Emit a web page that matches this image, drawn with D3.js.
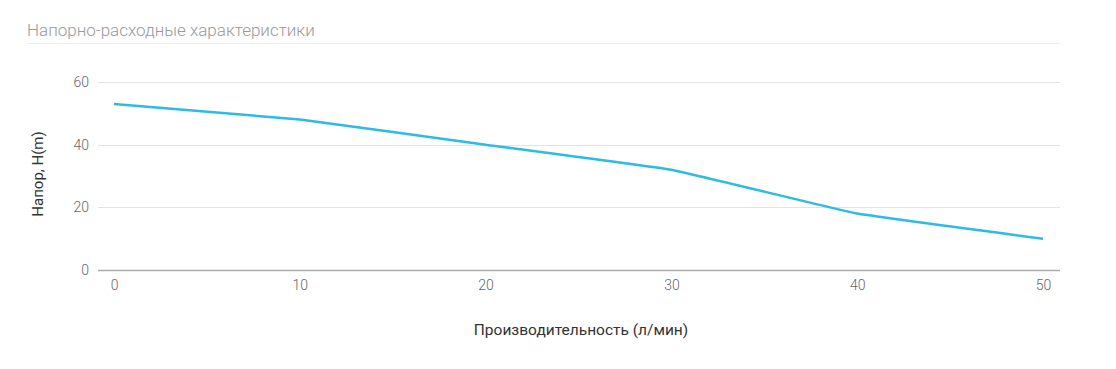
<!DOCTYPE html>
<html>
<head>
<meta charset="utf-8">
<script src="https://cdn.jsdelivr.net/npm/d3@7"></script>
<style>
  body { margin: 0; background: #fff; }
  text { font-family: Roboto, "Open Sans", sans-serif; }
</style>
</head>
<body>
<div id="chart"></div>
<script>
// chart data
var flowValues = [0, 10, 20, 30, 40, 50];
var headValues = [53, 48, 40, 32, 18, 10];
var yTicks = [0, 20, 40, 60];
var titleText = "Напорно-расходные характеристики";
var xTitle = "Производительность (л/мин)";
var yTitle = "Напор, H(m)";

var width = 1116, height = 369;
var plotLeft = 98, plotRight = 1060;

var svg = d3.select("#chart").append("svg")
    .attr("width", width)
    .attr("height", height);

// title + underline
svg.append("text")
    .attr("x", 27).attr("y", 36)
    .attr("font-size", 17).attr("font-weight", 300)
    .attr("fill", "#999")
    .text(titleText);
svg.append("line")
    .attr("x1", 27).attr("x2", plotRight)
    .attr("y1", 43.5).attr("y2", 43.5)
    .attr("stroke", "#eeeeee").attr("stroke-width", 1);

var x = d3.scaleLinear().domain([0, 50]).range([114, 1043]);
var y = d3.scaleLinear().domain([0, 60]).range([270, 82]);

// horizontal grid lines
svg.append("g").selectAll("line")
    .data(yTicks)
    .enter()
    .append("line")
    .attr("x1", plotLeft).attr("x2", plotRight)
    .attr("y1", function(d) { return Math.round(y(d)) + 0.5; })
    .attr("y2", function(d) { return Math.round(y(d)) + 0.5; })
    .attr("stroke", function(d) { return d === 0 ? "#aaaaaa" : "#e3e3e3"; })
    .attr("stroke-width", function(d) { return d === 0 ? 1.5 : 1; });

// y tick labels
var yAxis = svg.append("g")
    .attr("transform", "translate(" + 89 + ",0)")
    .call(d3.axisLeft(y).tickValues(yTicks).tickSize(0).tickPadding(0));
yAxis.select(".domain").remove();
yAxis.selectAll("text")
    .attr("font-size", 14).attr("font-weight", 300).attr("fill", "#666").attr("font-family", "Roboto");

// x tick labels
var xAxis = svg.append("g")
    .attr("transform", "translate(0," + 280 + ")")
    .call(d3.axisBottom(x).tickValues(flowValues).tickSize(0).tickPadding(0));
xAxis.select(".domain").remove();
xAxis.selectAll("text")
    .attr("font-size", 14).attr("font-weight", 300).attr("fill", "#666").attr("font-family", "Roboto");

// axis titles
svg.append("text")
    .attr("x", 581).attr("y", 335)
    .attr("text-anchor", "middle")
    .attr("font-size", 15.5).attr("fill", "#333")
    .text(xTitle);
svg.append("text")
    .attr("transform", "translate(43," + 174 + ") rotate(-90)")
    .attr("text-anchor", "middle")
    .attr("font-size", 15).attr("fill", "#333")
    .text(yTitle);

// the curve
var line = d3.line()
    .x(function(d, i) { return x(flowValues[i]); })
    .y(function(d) { return y(d); })
    .curve(d3.curveCardinal.tension(0.75));

svg.append("path")
    .datum(headValues)
    .attr("d", line)
    .attr("fill", "none")
    .attr("stroke", "#2bbbe6")
    .attr("stroke-width", 2.5);
</script>
</body>
</html>
